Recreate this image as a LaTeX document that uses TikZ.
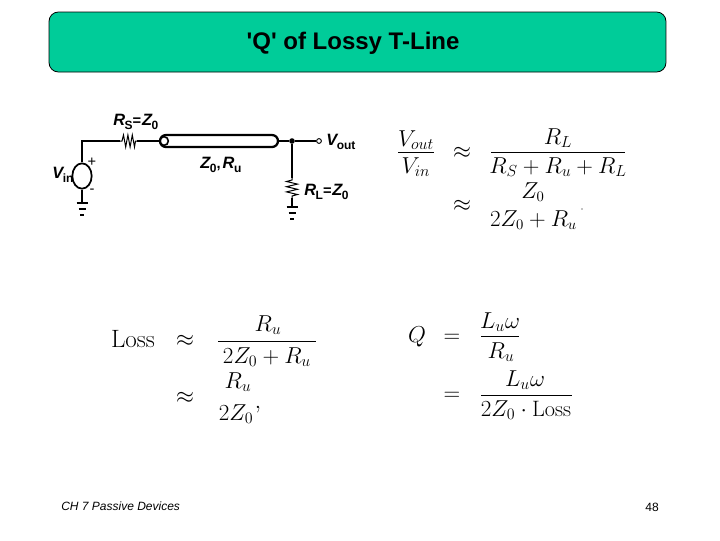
\documentclass[tikz,border=0pt]{standalone}
\usepackage{fontspec}
\usepackage{amsmath}
\newfontfamily\arialf{Liberation Sans}
\usetikzlibrary{shapes.geometric}
\definecolor{titlegreen}{HTML}{00CC99}
\newcommand{\cvar}[2]{{\fontsize{12.3}{13}\selectfont\itshape #1}\kern-0.3pt\raisebox{-2.5pt}{\fontsize{9}{9}\selectfont\upshape #2}}
\tikzset{
  wire/.style={line width=1.3pt,black},
  thinwire/.style={line width=0.75pt,black},
  gbar/.style={line width=1.5pt,black},
  clabel/.style={inner sep=0pt,font=\arialf\fontsize{11}{12}\selectfont\bfseries},
  eqa/.style={inner sep=0pt,font=\fontsize{16.7}{20}\selectfont},
  eqc/.style={inner sep=0pt,font=\fontsize{16}{20}\selectfont},
  eqb/.style={inner sep=0pt,font=\fontsize{18.8}{22}\selectfont},
  fbar/.style={line width=0.6pt,black},
}
\begin{document}
\begin{tikzpicture}[x=0.75pt,y=-0.75pt]
\useasboundingbox (0,0) rectangle (720,540);
\fill[white] (0,0) rectangle (720,540);
\node[draw=black,fill=titlegreen,rounded corners=7pt,line width=0.6pt,minimum width=462.7pt,minimum height=45pt,inner sep=0pt] (titlebox) at (357.5,42) {};
\node[inner sep=0pt,font=\arialf\fontsize{18}{20}\selectfont\bfseries] (title) at (353,43) {'Q' of Lossy T-Line};
% circuit
\coordinate (src) at (82,176);
\node[draw=black,line width=1.3pt,ellipse,minimum width=14.5pt,minimum height=19pt,inner sep=0pt] (vs) at (src) {};
\coordinate (c1) at (82,141);
\coordinate (rsa) at (120,141);
\coordinate (rsb) at (137,141);
\node[draw=black,line width=1.7pt,rounded corners=4.5pt,minimum width=88.5pt,minimum height=9pt,inner sep=0pt] (tl) at (219,141) {};
\node[draw=black,line width=1.2pt,circle,minimum size=6.5pt,inner sep=0pt] (tlin) at (164,141) {};
\node[circle,fill=black,minimum size=4.2pt,inner sep=0pt] (j) at (292,141) {};
\node[draw=black,line width=0.7pt,circle,minimum size=3.6pt,inner sep=0pt] (out) at (319,141) {};
\coordinate (rla) at (292,178);
\coordinate (rlb) at (292,198);
\coordinate (g1) at (82,203);
\coordinate (g2) at (292,207);
\draw[wire] (vs.north) -- (c1) -- (rsa);
\draw[thinwire] (rsa) -- ++(2,0) -- ++(1.5,-6) -- ++(2.2,12) -- ++(2.2,-12) -- ++(2.2,12) -- ++(2.2,-12) -- ++(2.2,12) -- ++(1,-6) -- (rsb);
\draw[wire] (rsb) -- (tlin.west);
\draw[wire] (tl.east) -- (j);
\draw[wire] (j) -- (out.west);
\draw[wire] (j) -- (rla);
\draw[thinwire] (rla) -- ++(0,2) -- ++(-5.5,1.5) -- ++(11,2.6) -- ++(-11,2.6) -- ++(11,2.6) -- ++(-11,2.6) -- ++(11,2.6) -- ++(-5.5,1.5) -- (rlb);
\draw[wire] (rlb) -- (g2);
\draw[wire] (vs.south) -- (g1);
\foreach \g in {g1,g2}{
  \draw[gbar] (\g) ++(-5.5,0) -- ++(11,0);
  \draw[gbar] (\g) ++(-3.5,6) -- ++(7,0);
  \draw[gbar] (\g) ++(-2,11.5) -- ++(4,0);
}
\node[clabel,anchor=west] (l1) at (113,122) {\cvar{R}{S}= \kern-2.5pt\cvar{Z}{0}};
\node[clabel,anchor=west] (l2) at (200,165) {\cvar{Z}{0}, \kern-1.5pt\cvar{R}{u}};
\node[clabel,anchor=west] (l3) at (304,192) {\cvar{R}{L}= \kern-2.5pt\cvar{Z}{0}};
\node[clabel,anchor=west] (l4) at (326,142) {\cvar{V}{out}};
\node[clabel,anchor=west] (l5) at (52,175) {\cvar{V}{in}};
\node[inner sep=0pt,font=\arialf\fontsize{11}{12}\selectfont] (pl) at (92,162) {+};
\node[inner sep=0pt,font=\arialf\fontsize{11}{12}\selectfont] (mi) at (92,191) {-};
% equations: top right
\node[eqa] (v1) at (416,140) {$V_{out}$};
\node[eqa] (v2) at (416,167) {$V_{in}$};
\draw[fbar] (398,152) -- (434,152);
\node[eqa] (a1) at (462,153) {$\approx$};
\node[eqa] (r1) at (558,138) {$R_L$};
\node[eqa] (r2) at (558,167) {$R_S+R_u+R_L$};
\draw[fbar] (491,152) -- (625,152);
\node[eqa] (a2) at (462,206) {$\approx$};
\node[eqc] (z1) at (533,192) {$Z_0$};
\node[eqc] (z2) at (533.5,220) {$2Z_0+R_u$};
\fill (582,209) circle[radius=0.6];
% Loss
\node[eqb] (ls) at (133,339) {$\mathrm{Loss}$};
\node[eqb] (a3) at (185,341) {$\approx$};
\node[eqb] (n3) at (268,325) {$R_u$};
\node[eqb] (d3) at (267,357) {$2Z_0+R_u$};
\draw[fbar] (218,341) -- (316,341);
\node[eqb] (a4) at (185,398) {$\approx$};
\node[eqb] (n4) at (238,382) {$R_u$};
\node[eqb] (d4) at (236,414) {$2Z_0$};
\node[eqb] (c4) at (258,410) {$,$};
% Q
\node[eqa] (q) at (417,337) {$Q$};
\node[eqa] (e5) at (452,338) {$=$};
\node[eqa] (n5) at (500,322) {$L_u\omega$};
\node[eqa] (d5) at (501,352) {$R_u$};
\draw[fbar] (481,336) -- (519,336);
\node[eqa] (e6) at (452,396) {$=$};
\node[eqa] (n6) at (525,380) {$L_u\omega$};
\node[eqa] (d6) at (526,410) {$2Z_0\cdot\mathrm{Loss}$};
\draw[fbar] (481,395) -- (572,395);
\node[inner sep=0pt,anchor=west,font=\arialf\fontsize{9}{11}\selectfont\itshape] (foot) at (61,506) {CH 7 Passive Devices};
\node[inner sep=0pt,anchor=east,font=\arialf\fontsize{9}{11}\selectfont] (page) at (659,507) {48};
\end{tikzpicture}
\end{document}
